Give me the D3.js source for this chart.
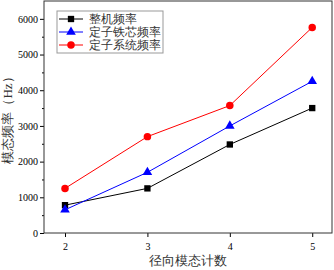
<!DOCTYPE html>
<html>
<head>
<meta charset="utf-8">
<script src="https://cdn.jsdelivr.net/npm/d3@7"></script>
<style>
  body { margin: 0; background: #fff; }
  svg text { font-family: "Liberation Serif", "DejaVu Serif", serif; }
</style>
</head>
<body>
<div id="chart-area"></div>
<script>
// data
var modes = [2, 3, 4, 5];
var seriesNames = ["整机频率", "定子铁芯频率", "定子系统频率"];
var wholeFreq = [780, 1250, 2480, 3500];
var coreFreq = [650, 1700, 3000, 4250];
var statorFreq = [1250, 2700, 3570, 5760];
var yTicks = [0, 1000, 2000, 3000, 4000, 5000, 6000];

var margin = { left: 44, right: 2, top: 1, bottom: 37 };
var width = 334 - margin.left - margin.right,
    height = 270 - margin.top - margin.bottom;

var svg = d3.select("#chart-area")
    .append("svg")
        .attr("width", 334)
        .attr("height", 270);

var g = svg.append("g")
    .attr("transform", "translate(" + margin.left + "," + margin.top + ")");

var x = d3.scaleLinear().domain([1.745, 5.24]).range([0, width]);
var y = d3.scaleLinear().domain([0, 6500]).range([height, 0]);

// minor y ticks
g.append("g")
    .call(d3.axisLeft(y).tickValues(d3.range(500, 6500, 1000)).tickSize(2).tickFormat(""))
    .call(function(s){ s.select(".domain").remove(); });

// y axis
var yAxis = g.append("g")
    .call(d3.axisLeft(y).tickValues(yTicks).tickSize(4).tickPadding(2).tickFormat(d3.format("d")));
yAxis.selectAll("text").attr("font-size", "10px").attr("font-family", "Liberation Serif");
yAxis.select(".domain").remove();

// x axis
var xAxis = g.append("g")
    .attr("transform", "translate(0," + height + ")")
    .call(d3.axisBottom(x).tickValues(modes).tickSize(4).tickPadding(6).tickFormat(d3.format("d")));
xAxis.selectAll("text").attr("font-size", "10px").attr("font-family", "Liberation Serif");
xAxis.select(".domain").remove();

// frame
g.append("rect")
    .attr("width", width)
    .attr("height", height)
    .attr("fill", "none")
    .attr("stroke", "#333")
    .attr("stroke-width", 1);

var series = [
    { name: seriesNames[0], values: wholeFreq, color: "#000", shape: d3.symbolSquare },
    { name: seriesNames[1], values: coreFreq, color: "#0000ff", shape: d3.symbolTriangle },
    { name: seriesNames[2], values: statorFreq, color: "#ff0000", shape: d3.symbolCircle }
];

var line = d3.line()
    .x(function(d, i){ return x(modes[i]); })
    .y(function(d){ return y(d); });

series.forEach(function(s) {
    g.append("path")
        .datum(s.values)
        .attr("fill", "none")
        .attr("stroke", s.color)
        .attr("stroke-width", 1)
        .attr("d", line);

    g.selectAll(null)
        .data(s.values)
        .enter()
        .append("path")
            .attr("d", d3.symbol().type(s.shape).size(s.shape === d3.symbolCircle ? 44 : 40))
            .attr("fill", s.color)
            .attr("transform", function(d, i){ return "translate(" + x(modes[i]) + "," + y(d) + ")"; });
});

// legend
var legend = g.append("g").attr("transform", "translate(13,10)");
legend.append("rect")
    .attr("width", 106)
    .attr("height", 42)
    .attr("fill", "#fff")
    .attr("stroke", "#999");

series.forEach(function(s, i) {
    var row = legend.append("g").attr("transform", "translate(0," + (8 + i * 13) + ")");
    row.append("line")
        .attr("x1", 2).attr("x2", 26)
        .attr("stroke", s.color);
    row.append("path")
        .attr("d", d3.symbol().type(s.shape).size(s.shape === d3.symbolCircle ? 44 : 40))
        .attr("fill", s.color)
        .attr("transform", "translate(14,0)");
    row.append("text")
        .attr("x", 32)
        .attr("y", 4)
        .attr("font-size", "11.5px")
        .attr("font-family", "Noto Sans CJK SC")
        .attr("fill", "#333")
        .text(s.name);
});

// axis labels
svg.append("text")
    .attr("x", margin.left + width / 2)
    .attr("y", 265)
    .attr("text-anchor", "middle")
    .attr("font-size", "13px")
    .attr("font-family", "Noto Sans CJK SC")
    .attr("fill", "#333")
    .text("径向模态计数");

svg.append("text")
    .attr("transform", "translate(12," + (margin.top + height / 2) + ") rotate(-90)")
    .attr("text-anchor", "middle")
    .attr("font-size", "13px")
    .attr("font-family", "Noto Sans CJK SC")
    .attr("fill", "#333")
    .text("模态频率（Hz）");
</script>
</body>
</html>
